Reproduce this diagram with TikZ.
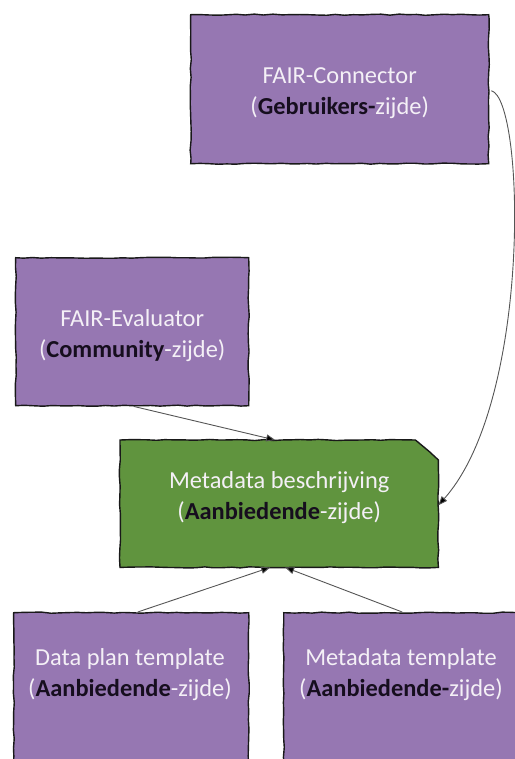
\documentclass[tikz,border=0pt]{standalone}
\usepackage{fontspec}
\setmainfont{Carlito}
\usetikzlibrary{arrows.meta,decorations.pathmorphing,backgrounds,calc}
\definecolor{boxpurple}{RGB}{150,119,178}
\definecolor{boxgreen}{RGB}{96,148,62}
\definecolor{boxtext}{RGB}{244,240,246}
\definecolor{boldtext}{RGB}{22,14,30}
\definecolor{linkgray}{RGB}{85,85,85}
\begin{document}
\begin{tikzpicture}[x=1bp,y=-1bp,
  sketch/.style={draw=black!90, line width=1.4bp, decorate,
    decoration={random steps,segment length=9bp,amplitude=0.6bp}},
  purplebox/.style={sketch, fill=boxpurple, inner sep=0pt, anchor=north west},
  boxlabel/.style={text=boxtext, font=\fontsize{24.5}{31}\selectfont, align=center, inner sep=0pt},
  link/.style={draw=linkgray, line width=0.9bp, -{Triangle[length=9bp,width=7bp,fill=black]}},
]
\useasboundingbox (0,0) rectangle (515,759);
\clip (0,0) rectangle (515,759);

% boxes
\node[purplebox, minimum width=298bp, minimum height=149bp] (conn) at (190,14) {};
\node[purplebox, minimum width=233bp, minimum height=148bp] (eval) at (15,257) {};
\node[anchor=north west, inner sep=0pt, minimum width=318bp, minimum height=127bp] (meta) at (120,440) {};
\node[purplebox, minimum width=235bp, minimum height=170bp] (dp) at (13,612) {};
\node[purplebox, minimum width=245bp, minimum height=170bp] (mt) at (283,612) {};

\begin{scope}[on background layer]
  \path[sketch, fill=boxgreen] (meta.south west) -- (meta.north west)
    -- ([xshift=-23bp]meta.north east) -- ([yshift=-20bp]meta.north east)
    -- (meta.south east) -- cycle;
\end{scope}

% texts
\node[boxlabel] (conntext) at ([yshift=-4bp]conn.center)
  {FAIR-Connector\\(\textbf{\color{boldtext}Gebruikers-}zijde)};
\node[boxlabel] (evaltext) at ([yshift=-4bp]eval.center)
  {FAIR-Evaluator\\(\textbf{\color{boldtext}Community}-zijde)};
\node[boxlabel] (metatext) at ([yshift=6bp]meta.center)
  {Metadata beschrijving\\(\textbf{\color{boldtext}Aanbiedende}-zijde)};
\node[boxlabel] (dptext) at (130,675)
  {Data plan template\\(\textbf{\color{boldtext}Aanbiedende}-zijde)};
\node[boxlabel] (mttext) at (401,675)
  {Metadata template\\(\textbf{\color{boldtext}Aanbiedende-}zijde)};

% connectors
\draw[link] ([xshift=1.5bp]eval.south) -- ([xshift=-4bp]meta.north);
\draw[link] ([xshift=6.5bp]dp.north) -- ([xshift=-9bp]meta.south);
\draw[link] ([xshift=-4bp]mt.north) -- ([xshift=6bp]meta.south);
\draw[link] ([xshift=2bp,yshift=-1.5bp]conn.east) .. controls (525,100) and (532,400) .. ([yshift=-1.5bp]meta.east);
\end{tikzpicture}
\end{document}
